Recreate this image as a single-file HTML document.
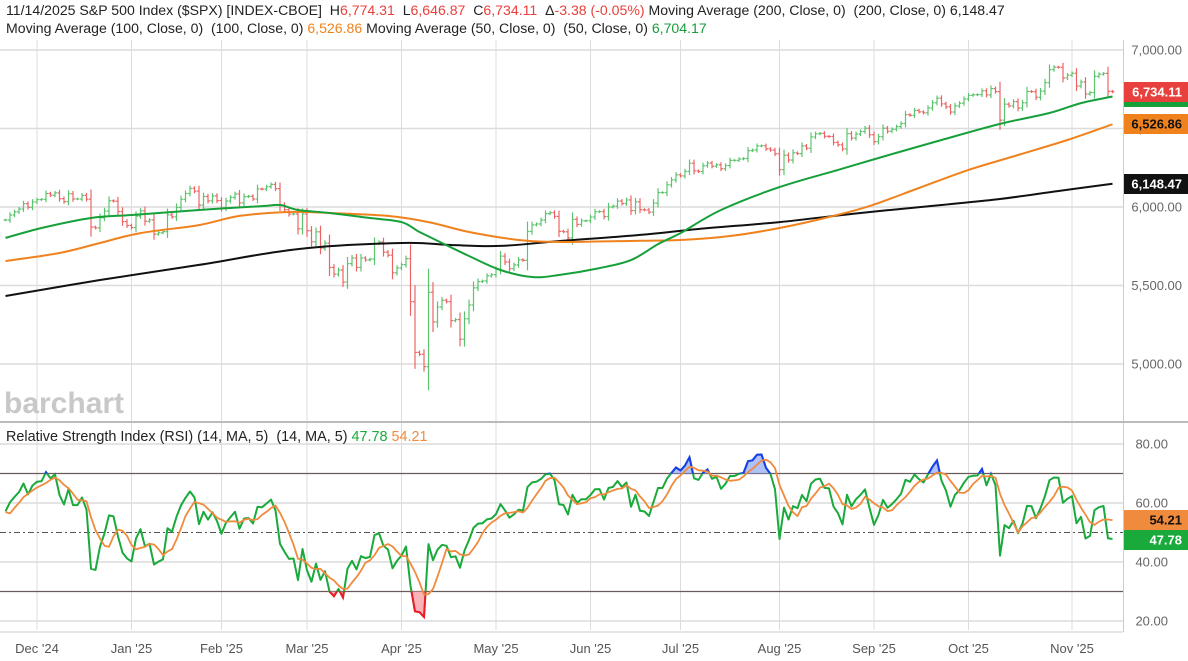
<!DOCTYPE html>
<html><head><meta charset="utf-8">
<style>
body{margin:0;background:#fff;width:1188px;height:661px;overflow:hidden;font-family:"Liberation Sans",sans-serif;}
#hdr{position:absolute;left:6px;top:2px;font-size:14.1px;color:#222;line-height:17.5px;white-space:nowrap}
.r{color:#e8403c}.o{color:#f0821e}.g{color:#1a9b3a}
svg{position:absolute;left:0;top:0}
</style></head><body>
<div id="hdr">
<div>11/14/2025 S&amp;P 500 Index ($SPX) [INDEX-CBOE] &nbsp;H<span class="r">6,774.31</span> &nbsp;L<span class="r">6,646.87</span> &nbsp;C<span class="r">6,734.11</span> &nbsp;Δ<span class="r">-3.38 (-0.05%)</span> Moving Average (200, Close, 0) &nbsp;(200, Close, 0) 6,148.47</div>
<div>Moving Average (100, Close, 0) &nbsp;(100, Close, 0) <span class="o">6,526.86</span> Moving Average (50, Close, 0) &nbsp;(50, Close, 0) <span class="g">6,704.17</span></div>
</div>
<svg id="c" width="1188" height="661"></svg>
<script>
const warmCloses=[5709,5710,5700,5751,5696,5751,5793,5780,5815,5859,5816,5843,5841,5865,5853,5851,5797,5809,5808,5823,5832,5813,5705,5729,5712,5782,5929,5973,5995,6001,5984,5985,5949,5871,5894,5917];
const closes=[5917,5949,5969,5987,6021,5998,6032,
6047,6049,6086,6075,6090,6053,6034,6084,6051,6051,6074,6050,5872,5867,5931,5974,6040,6037,5971,5907,5882,
5869,5942,5975,5909,5918,5827,5836,5843,5950,5937,5997,6049,6086,6119,6101,6012,6067,6039,6071,6041,
5994,6038,6061,6083,6026,6066,6068,6051,6115,6114,6129,6144,6117,6013,5983,5955,5956,5861,5955,
5849,5778,5842,5738,5770,5615,5572,5599,5522,5639,5675,5615,5675,5663,5668,5768,5777,5712,5693,5581,5612,
5633,5671,5397,5074,5062,4983,5457,5268,5363,5406,5397,5276,5283,5158,5288,5376,5485,5525,5529,5561,5569,
5604,5687,5650,5607,5631,5664,5660,5844,5886,5892,5917,5958,5964,5940,5845,5842,5803,5922,5889,5912,5912,
5936,5970,5971,5939,6000,6006,6038,6022,6045,5977,6033,5983,5981,5967,6025,6092,6092,6141,6173,6205,
6198,6227,6279,6230,6226,6263,6280,6260,6269,6244,6264,6297,6297,6306,6309,6359,6363,6389,6390,6371,6362,6339,
6238,6330,6299,6345,6340,6389,6374,6446,6466,6469,6450,6449,6411,6396,6370,6467,6439,6465,6481,6502,6460,
6416,6448,6502,6482,6495,6512,6532,6588,6584,6615,6606,6600,6631,6664,6693,6657,6638,6605,6644,6661,6688,
6711,6715,6716,6740,6714,6754,6735,6553,6655,6644,6671,6630,6664,6736,6735,6699,6738,6792,6875,6891,6890,6822,6840,
6852,6771,6796,6720,6729,6832,6846,6851,6737,6734];
const ma200Idx=[0,21,43,65,88,99,110,123,141,154,172,190,208,221,234,246];
const ma200Val=[5433,5535,5631,5732,5771,5758,5752,5783,5822,5860,5904,5962,6013,6051,6102,6148];
const ma100Idx=[0,12,21,30,43,52,63,72,85,94,103,114,123,136,150,161,172,183,192,203,214,225,236,246];
const ma100Val=[5656,5707,5771,5834,5885,5943,5968,5962,5943,5904,5841,5790,5777,5783,5790,5815,5866,5936,6006,6121,6236,6331,6427,6527];
const ma50Idx=[0,8,19,28,43,57,61,65,72,81,88,92,97,103,110,117,123,132,139,145,150,159,172,185,194,208,221,232,239,246];
const ma50Val=[5803,5866,5930,5949,5981,6006,6013,5981,5962,5930,5904,5841,5771,5688,5599,5554,5567,5611,5662,5764,5834,5981,6127,6236,6312,6427,6529,6599,6662,6704];
const priceTicks=[7000,6500,6000,5500,5000];
const rsiTicks=[80,60,40,20];
const monthLabels=["Dec '24","Jan '25","Feb '25","Mar '25","Apr '25","May '25","Jun '25","Jul '25","Aug '25","Sep '25","Oct '25","Nov '25"];
const monthIdx=[7,28,48,67,88,109,130,150,172,193,214,237];

const NS="http://www.w3.org/2000/svg", svg=document.getElementById('c');
const xOf=i=>37+(i-7)*4.5;
const yP=p=>207-(p-6000)*0.157;
const yR=v=>562-(v-40)*2.95;
function mk(t,a,parent){const e=document.createElementNS(NS,t);for(const k in a)e.setAttribute(k,a[k]);(parent||svg).appendChild(e);return e;}

monthIdx.forEach((mi,k)=>{
 const g=mk('line',{x1:xOf(mi),x2:xOf(mi),y1:40,y2:630,stroke:'#dcdcdc','stroke-width':1});
 
 
 const t=mk('text',{x:xOf(mi),y:653,'text-anchor':'middle','font-size':13,fill:'#555'});t.textContent=monthLabels[k];
 
 
});
priceTicks.forEach(p=>{
 const g=mk('line',{x1:0,x2:1123,y1:yP(p),y2:yP(p),stroke:'#dcdcdc','stroke-width':1.5});
 
 
 const t=mk('text',{x:1182,y:yP(p)+4.5,'text-anchor':'end','font-size':13,fill:'#666'});t.textContent=p.toLocaleString('en-US',{minimumFractionDigits:2});
 
 
});
rsiTicks.forEach(v=>{
 const g=mk('line',{x1:0,x2:1123,y1:yR(v),y2:yR(v),stroke:'#dcdcdc','stroke-width':1.5});
 
 
 const t=mk('text',{x:1168,y:yR(v)+4.5,'text-anchor':'end','font-size':13,fill:'#666'});t.textContent=v.toFixed(2);
 
 
});
[70,30].forEach(v=>{const l=mk('line',{x1:0,x2:1123,y1:yR(v),y2:yR(v),stroke:'#6b5a5a','stroke-width':1.2});
 
 });
const mid=mk('line',{x1:0,x2:1123,y1:yR(50),y2:yR(50),stroke:'#555','stroke-width':1,'stroke-dasharray':'6,3,2,3'});


const ax=mk('line',{x1:1123.5,x2:1123.5,y1:40,y2:632,stroke:'#ccc','stroke-width':1});


const sep=mk('line',{x1:0,x2:1188,y1:422,y2:422,stroke:'#bbb','stroke-width':2});


const bot=mk('line',{x1:0,x2:1123,y1:632,y2:632,stroke:'#ccc','stroke-width':1});


const wm=mk('text',{x:4,y:413,'font-size':30,'font-weight':'bold',fill:'#c8c8c8'});wm.textContent='barchart';



closes.forEach((c,i)=>{
 const o=i>0?closes[i-1]:warmCloses[warmCloses.length-1];
 const d=Math.abs(c-o), hi=Math.max(o,c)+d*0.3+8, lo=Math.min(o,c)-d*0.3-8;
 const col=c>=o?'#5cc46e':'#ee6464', x=xOf(i);
 const g=mk('g',{stroke:col,'stroke-width':1.2});
 
 
 mk('line',{x1:x,x2:x,y1:yP(hi),y2:yP(lo)},g);
 mk('line',{x1:x-2,x2:x,y1:yP(o),y2:yP(o)},g);
 mk('line',{x1:x,x2:x+2,y1:yP(c),y2:yP(c)},g);
});
function smoothPath(pts){
 let d='M'+pts[0][0].toFixed(1)+','+pts[0][1].toFixed(1);
 for(let k=0;k<pts.length-1;k++){
  const p0=pts[Math.max(k-1,0)],p1=pts[k],p2=pts[k+1],p3=pts[Math.min(k+2,pts.length-1)];
  const c1=[p1[0]+(p2[0]-p0[0])/6,p1[1]+(p2[1]-p0[1])/6],c2=[p2[0]-(p3[0]-p1[0])/6,p2[1]-(p3[1]-p1[1])/6];
  d+='C'+c1[0].toFixed(1)+','+c1[1].toFixed(1)+' '+c2[0].toFixed(1)+','+c2[1].toFixed(1)+' '+p2[0].toFixed(1)+','+p2[1].toFixed(1);
 }
 return d;
}
function maLine(idx,val,col,name){
 const pts=idx.map((i,k)=>[xOf(i),yP(val[k])]);
 const p=mk('path',{d:smoothPath(pts),fill:'none',stroke:col,'stroke-width':2,'stroke-linejoin':'round'});
 
 
}
maLine(ma200Idx,ma200Val,'#111','ma200-line');
maLine(ma100Idx,ma100Val,'#f0821e','ma100-line');
maLine(ma50Idx,ma50Val,'#16a03a','ma50-line');

const all=warmCloses.concat(closes);let ag=0,al=0;const rsiAll=[];
for(let i=1;i<all.length;i++){const ch=all[i]-all[i-1],gn=Math.max(ch,0),ls=Math.max(-ch,0);
 if(i<=14){ag+=gn/14;al+=ls/14;}else{ag=(ag*13+gn)/14;al=(al*13+ls)/14;}
 rsiAll.push(i>=14?100-100/(1+ag/(al||1e-9)):50);}
const off=rsiAll.length-closes.length;
const rsi=rsiAll.slice(off);
const rsiMa=rsi.map((v,i)=>{const s=rsiAll.slice(off+i-4,off+i+1);return s.reduce((a,b)=>a+b,0)/s.length;});
const rd=rsi.map((v,i)=>(i?'L':'M')+xOf(i).toFixed(1)+','+yR(v).toFixed(1)).join('');
const defs=mk('defs',{});
const c1=mk('clipPath',{id:'ob'},defs);mk('rect',{x:0,y:430,width:1123,height:yR(70)-430},c1);
const c2=mk('clipPath',{id:'os'},defs);mk('rect',{x:0,y:yR(30),width:1123,height:640-yR(30)},c2);
const area70=rd+'L'+xOf(rsi.length-1)+','+yR(70)+'L'+xOf(0)+','+yR(70)+'Z';
const area30=rd+'L'+xOf(rsi.length-1)+','+yR(30)+'L'+xOf(0)+','+yR(30)+'Z';
const fo=mk('path',{d:area70,fill:'#8fa6f5','fill-opacity':0.7,'clip-path':'url(#ob)'});


const fs=mk('path',{d:area30,fill:'#f7a0a8','fill-opacity':0.8,'clip-path':'url(#os)'});


const rl=mk('path',{d:rd,fill:'none',stroke:'#1aaa3c','stroke-width':2,'stroke-linejoin':'round'});


const rb=mk('path',{d:rd,fill:'none',stroke:'#1a3cf0','stroke-width':2,'clip-path':'url(#ob)'});


const rr=mk('path',{d:rd,fill:'none',stroke:'#f01a2a','stroke-width':2,'clip-path':'url(#os)'});


const md=rsiMa.map((v,i)=>(i?'L':'M')+xOf(i).toFixed(1)+','+yR(v).toFixed(1)).join('');
const ml=mk('path',{d:md,fill:'none',stroke:'#f08a3c','stroke-width':1.8,'stroke-linejoin':'round'});


const rt=mk('text',{x:6,y:441,'font-size':14.4,fill:'#222'});
rt.innerHTML='Relative Strength Index (RSI) (14, MA, 5) &#160;(14, MA, 5) <tspan fill="#1aaa3c">47.78</tspan> <tspan fill="#f08a3c">54.21</tspan>';



function box(y,h,bg,fg,txt,name){const g=mk('g',{});
 
 
 mk('rect',{x:1124,y,width:64,height:h,fill:bg},g);
 if(txt){const t=mk('text',{x:1182,y:y+h/2+4.5,'text-anchor':'end','font-size':13,'font-weight':'bold',fill:fg},g);t.textContent=txt;}}
box(102,5,'#16a03a','#fff','','ma50-value-box');
box(82,20,'#e8403c','#fff','6,734.11','last-price-box');
box(114,20,'#f0821e','#111','6,526.86','ma100-value-box');
box(174,20,'#111','#fff','6,148.47','ma200-value-box');
box(510,20,'#f08a3c','#111','54.21','rsi-ma-value-box');
box(530,20,'#1aaa3c','#fff','47.78','rsi-value-box');
</script>
</body></html>
